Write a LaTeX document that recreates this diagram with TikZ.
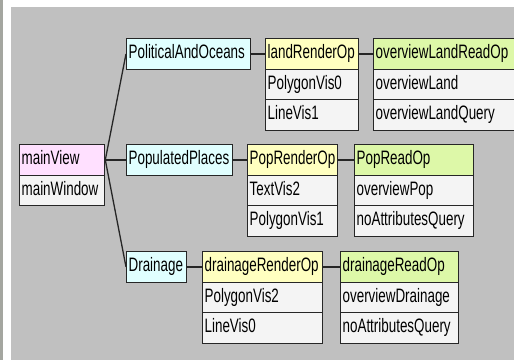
\documentclass[tikz,border=0pt]{standalone}
\usepackage{fontspec}
\setmainfont[FakeStretch=0.69]{Liberation Sans}
\usepackage{tikz}
\definecolor{panelgray}{HTML}{C0C0C0}
\definecolor{stripgray}{HTML}{A4A6A0}
\definecolor{rowwhite}{HTML}{F4F4F4}
\definecolor{viewpink}{HTML}{FFE0FF}
\definecolor{layercyan}{HTML}{E0FFFF}
\definecolor{renderyellow}{HTML}{FFFFC0}
\definecolor{readgreen}{HTML}{DDF8A8}
\tikzstyle{field} = [draw=black!85, line width=1.3bp, fill=rowwhite, anchor=north west, minimum height=30.5bp, inner xsep=2bp, inner ysep=0pt, align=left, font=\fontsize{19.5}{21}\selectfont, text height=14bp, text depth=4bp]
\tikzstyle{view} = [field, fill=viewpink]
\tikzstyle{layer} = [field, fill=layercyan]
\tikzstyle{render} = [field, fill=renderyellow]
\tikzstyle{read} = [field, fill=readgreen]
\tikzstyle{link} = [draw=black!85, line width=1.3bp]

\begin{document}
\begin{tikzpicture}[x=1bp, y=-1bp]
	\useasboundingbox (0, 0) rectangle (514, 360);
	\clip (0, 0) rectangle (514, 360);
	\fill[white] (0, 0) rectangle (514, 360);
	\fill[stripgray] (0, 0) rectangle (3, 360);
	\fill[panelgray] (11, 7) rectangle (514, 360);

	% view
	\node[view, text width=81bp](mv) at (19, 144){mainView};
	\node[field, text width=81bp](mw) at (19, 174.5){mainWindow};

	% layers
	\node[layer, text width=120bp](pao) at (126, 38){PoliticalAndOceans};
	\node[layer, text width=102bp](pp) at (126, 144){PopulatedPlaces};
	\node[layer, text width=56bp](dr) at (126, 251){Drainage};

	% render ops
	\node[render, text width=89bp](lro) at (265, 38){landRenderOp};
	\node[field, text width=89bp](pv0) at (265, 68.5){PolygonVis0};
	\node[field, text width=89bp](lv1) at (265, 99){LineVis1};
	\node[render, text width=86bp](pro) at (247, 144){PopRenderOp};
	\node[field, text width=86bp](tv2) at (247, 174.5){TextVis2};
	\node[field, text width=86bp](pv1) at (247, 205){PolygonVis1};
	\node[render, text width=116bp](dro) at (202, 251){drainageRenderOp};
	\node[field, text width=116bp](pv2) at (202, 281.5){PolygonVis2};
	\node[field, text width=116bp](lv0) at (202, 312){LineVis0};

	% read ops
	\node[read, text width=156bp](olro) at (373, 38){overviewLandReadOp};
	\node[field, text width=156bp](ol) at (373, 68.5){overviewLand};
	\node[field, text width=156bp](olq) at (373, 99){overviewLandQuery};
	\node[read, text width=115bp](pro2) at (354, 144){PopReadOp};
	\node[field, text width=115bp](op) at (354, 174.5){overviewPop};
	\node[field, text width=115bp](naq1) at (354, 205){noAttributesQuery};
	\node[read, text width=114bp](dro2) at (340, 251){drainageReadOp};
	\node[field, text width=114bp](od) at (340, 281.5){overviewDrainage};
	\node[field, text width=114bp](naq2) at (340, 312){noAttributesQuery};

	\draw[link](mv.east) -- (pao.west);
	\draw[link](mv.east) -- (pp.west);
	\draw[link](mv.east) -- (dr.west);
	\draw[link](pao.east) -- (lro.west);
	\draw[link](lro.east) -- (olro.west);
	\draw[link](pp.east) -- (pro.west);
	\draw[link](pro.east) -- (pro2.west);
	\draw[link](dr.east) -- (dro.west);
	\draw[link](dro.east) -- (dro2.west);
\end{tikzpicture}
\end{document}
